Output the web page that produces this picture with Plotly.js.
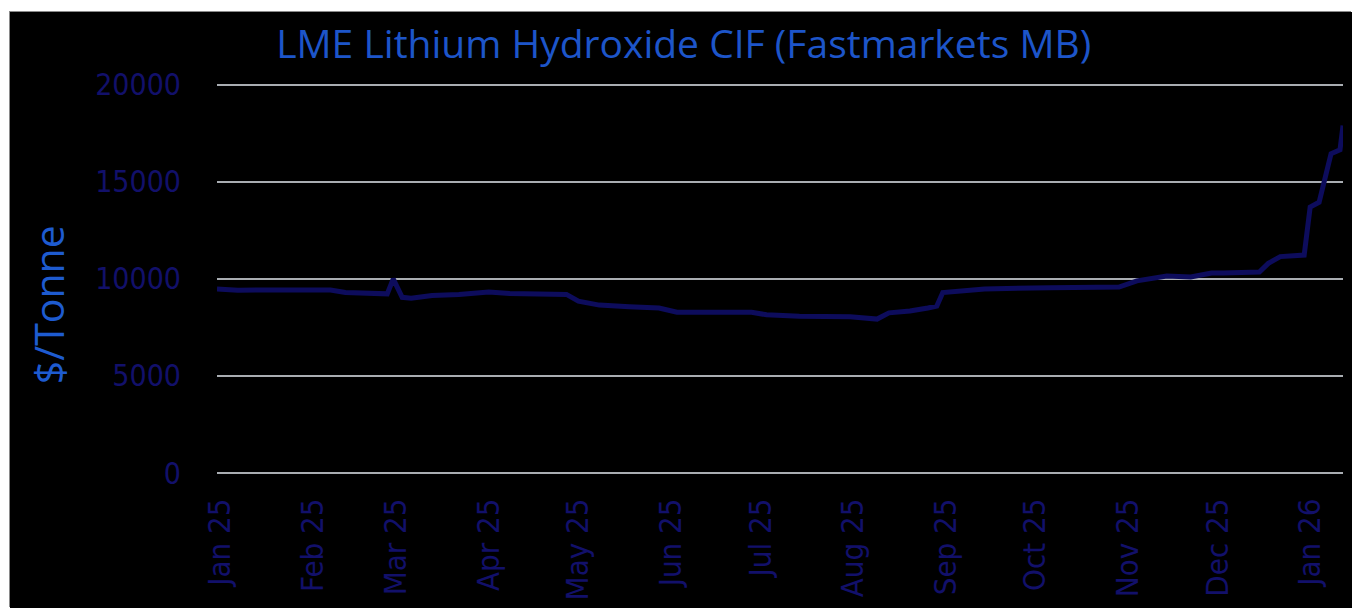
<!DOCTYPE html>
<html>
<head>
<meta charset="utf-8">
<script src="https://cdn.plot.ly/plotly-3.0.1.min.js"></script>
<style>
  html, body { margin: 0; padding: 0; background: #ffffff; width: 1352px; height: 608px; overflow: hidden; }
  #frame { position: absolute; left: 10px; top: 12px; width: 1342px; height: 596px; background: #000; box-shadow: -1px -1px 0 #8a8a8a; }
  #chart { width: 1342px; height: 596px; }
</style>
</head>
<body>
<div id="frame"><div id="chart"></div></div>
<script>
const chartTitle = "LME Lithium Hydroxide CIF (Fastmarkets MB)";
const yTitle = "$/Tonne";
const dates = [
  "2024-12-31","2025-01-07","2025-01-21","2025-02-07","2025-02-12","2025-02-20","2025-02-26",
  "2025-02-28","2025-03-03","2025-03-06","2025-03-13","2025-03-22","2025-04-01","2025-04-08",
  "2025-04-18","2025-04-27","2025-05-01","2025-05-08","2025-05-18","2025-05-28","2025-06-03",
  "2025-06-11","2025-06-28","2025-07-03","2025-07-14","2025-07-31","2025-08-09","2025-08-13",
  "2025-08-20","2025-08-26","2025-08-29","2025-08-31","2025-09-14","2025-10-06","2025-10-29",
  "2025-11-04","2025-11-14","2025-11-22","2025-11-29","2025-12-03","2025-12-15","2025-12-18",
  "2025-12-22","2025-12-30","2026-01-01","2026-01-04","2026-01-06","2026-01-08","2026-01-11",
  "2026-01-12"
];
const prices = [
  9480,9420,9430,9430,9300,9250,9230,
  10000,9050,9000,9150,9200,9330,9250,
  9230,9200,8850,8650,8560,8500,8280,
  8270,8280,8150,8080,8050,7930,8250,
  8350,8500,8600,9300,9480,9550,9580,
  9900,10150,10100,10300,10300,10350,10800,
  11150,11230,13700,13950,15100,16450,16650,
  17900
];
const yTicks = [0, 5000, 10000, 15000, 20000];

const fontFam = "'DejaVu Sans Condensed', 'Liberation Sans', sans-serif";

Plotly.newPlot("chart", [{
  type: "scatter",
  mode: "lines",
  x: dates,
  y: prices,
  line: { color: "#0d0c5c", width: 5 },
  hoverinfo: "x+y"
}], {
  width: 1342, height: 596,
  paper_bgcolor: "#000000",
  plot_bgcolor: "#000000",
  margin: { l: 207, r: 9, t: 67, b: 135 },
  showlegend: false,
  title: {
    text: chartTitle,
    x: 0.502, xref: "container", xanchor: "center",
    y: 0.946, yref: "container", yanchor: "middle",
    font: { family: "'Open Sans', 'Noto Sans', sans-serif", size: 39, color: "#1d55c9" }
  },
  annotations: [{
    text: yTitle,
    xref: "paper", yref: "paper",
    x: -0.150, y: 0.426,
    xanchor: "center", yanchor: "middle",
    textangle: -90,
    showarrow: false,
    font: { family: "'Open Sans', 'Noto Sans', sans-serif", size: 41, color: "#1e5bd0" }
  }],
  xaxis: {
    type: "date",
    range: ["2024-12-31", "2026-01-12"],
    tick0: "2025-01-01",
    dtick: "M1",
    tickformat: "%b %y",
    tickangle: -90,
    ticks: "outside",
    ticklen: 12,
    tickcolor: "rgba(0,0,0,0)",
    tickfont: { family: fontFam, size: 31, color: "#12106a" },
    showgrid: false,
    zeroline: false,
    showline: false,
    fixedrange: true
  },
  yaxis: {
    range: [0, 20300],
    tickvals: yTicks,
    ticktext: yTicks.map(String),
    ticks: "outside",
    ticklen: 29,
    tickcolor: "rgba(0,0,0,0)",
    tickfont: { family: fontFam, size: 30, color: "#12106a" },
    showgrid: true,
    gridcolor: "#a9adb2",
    gridwidth: 2,
    zeroline: true,
    zerolinecolor: "#a9adb2",
    zerolinewidth: 2,
    showline: false,
    fixedrange: true
  }
}, { displayModeBar: false, staticPlot: true });
</script>
</body>
</html>
